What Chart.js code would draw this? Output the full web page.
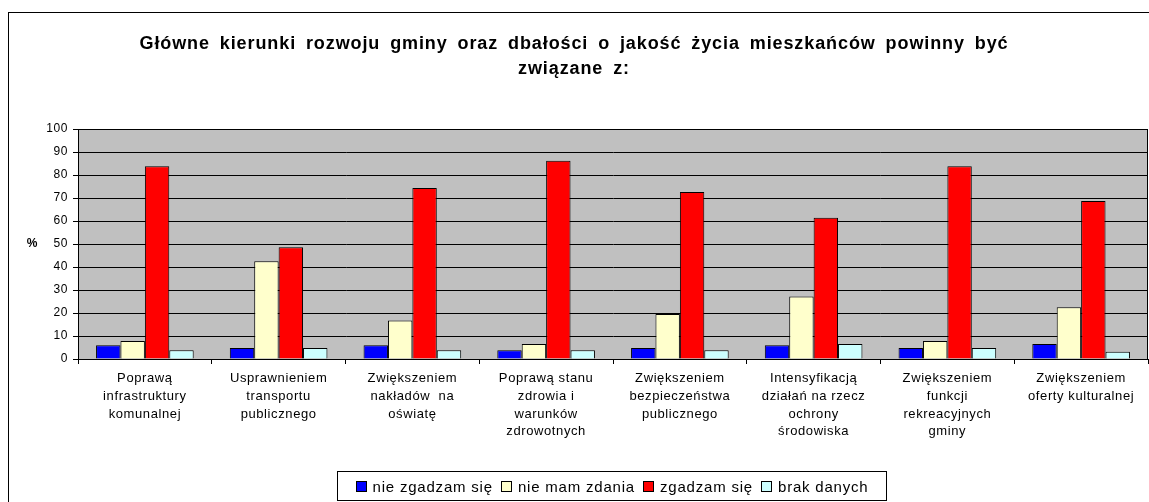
<!DOCTYPE html>
<html>
<head>
<meta charset="utf-8">
<script src="https://cdn.jsdelivr.net/npm/chart.js@4.4.1/dist/chart.umd.min.js"></script>
<style>
  html, body { margin: 0; padding: 0; background: #fff; overflow: hidden; }
  #wrap { position: relative; width: 1149px; height: 502px; }
</style>
</head>
<body>
<div id="wrap"><canvas id="chart" width="1149" height="502"></canvas></div>
<script>
// chart data
const titleLines = [
  'Główne kierunki rozwoju gminy oraz dbałości o jakość życia mieszkańców powinny być',
  'związane z:'
];
const categories = [
  ['Poprawą', 'infrastruktury', 'komunalnej'],
  ['Usprawnieniem', 'transportu', 'publicznego'],
  ['Zwiększeniem', 'nakładów  na', 'oświatę'],
  ['Poprawą stanu', 'zdrowia i', 'warunków', 'zdrowotnych'],
  ['Zwiększeniem', 'bezpieczeństwa', 'publicznego'],
  ['Intensyfikacją', 'działań na rzecz', 'ochrony', 'środowiska'],
  ['Zwiększeniem', 'funkcji', 'rekreacyjnych', 'gminy'],
  ['Zwiększeniem', 'oferty kulturalnej']
];
const seriesNames = ['nie zgadzam się', 'nie mam zdania', 'zgadzam się', 'brak danych'];
const nieZgadzam = [6, 4.8, 6, 3.8, 4.8, 6, 4.8, 6.5];
const nieMamZdania = [7.8, 42.5, 16.7, 6.5, 19.6, 27.2, 7.8, 22.5];
const zgadzam = [83.8, 48.6, 74.3, 86.2, 72.6, 61.4, 83.8, 68.7];
const brakDanych = [3.8, 4.8, 3.8, 3.8, 3.8, 6.5, 4.8, 3.2];
const yAxisLabel = '%';

const colors = ['#0000ff', '#ffffcc', '#ff0000', '#ccffff'];
const FONT = "'Liberation Sans', Arial, sans-serif";

const extras = {
  id: 'extras',
  beforeDraw(chart) {
    const { ctx, chartArea: a } = chart;
    ctx.save();
    ctx.fillStyle = '#fff';
    ctx.fillRect(0, 0, chart.width, chart.height);
    ctx.strokeStyle = '#000';
    ctx.lineWidth = 1;
    ctx.strokeRect(8.5, 12.5, 1300, 600);
    ctx.fillStyle = '#c0c0c0';
    ctx.fillRect(a.left, a.top, a.right - a.left, a.bottom - a.top);
    ctx.restore();
    ctx.letterSpacing = '0.6px';
  },
  afterDraw(chart) {
    const { ctx, chartArea: a } = chart;
    ctx.save();
    ctx.strokeStyle = '#000';
    ctx.lineWidth = 1;
    ctx.strokeRect(Math.round(a.left) + 0.5, Math.round(a.top) + 0.5,
      Math.round(a.right - a.left) - 1, Math.round(a.bottom - a.top));

    // title
    ctx.fillStyle = '#000';
    ctx.textAlign = 'center';
    ctx.textBaseline = 'middle';
    ctx.font = 'bold 18px ' + FONT;
    ctx.letterSpacing = '0.9px';
    ctx.wordSpacing = '4px';
    ctx.fillText(titleLines[0], 574, 44);
    ctx.fillText(titleLines[1], 574, 69);
    ctx.wordSpacing = '0px';

    // y axis label
    ctx.font = 'bold 12px ' + FONT;
    ctx.letterSpacing = '0px';
    ctx.fillText(yAxisLabel, 32, 244);

    // legend
    ctx.font = '15px ' + FONT;
    ctx.letterSpacing = '0.8px';
    const box = 10, gapText = 7, gapItem = 8;
    const widths = seriesNames.map(n => ctx.measureText(n).width);
    let total = widths.reduce((s, w) => s + w, 0) + seriesNames.length * (box + gapText) + (seriesNames.length - 1) * gapItem;
    const lx0 = 337.5, lx1 = 886.5, ly0 = 471.5, ly1 = 500.5;
    ctx.strokeRect(lx0, ly0, lx1 - lx0, ly1 - ly0);
    let x = (lx0 + lx1) / 2 - total / 2;
    const cy = 487;
    ctx.textAlign = 'left';
    seriesNames.forEach((n, i) => {
      ctx.fillStyle = colors[i];
      ctx.fillRect(Math.round(x) + 0.5, cy - 5.5, box, box);
      ctx.strokeRect(Math.round(x) + 0.5, cy - 5.5, box, box);
      ctx.fillStyle = '#000';
      ctx.fillText(n, x + box + gapText, cy + 1);
      x += box + gapText + widths[i] + gapItem;
    });
    ctx.restore();
    ctx.letterSpacing = '0px';
  }
};

const seriesValues = [nieZgadzam, nieMamZdania, zgadzam, brakDanych];

new Chart(document.getElementById('chart'), {
  type: 'bar',
  data: {
    labels: categories,
    datasets: seriesValues.map((vals, i) => ({
      label: seriesNames[i],
      data: vals,
      backgroundColor: colors[i],
      borderColor: '#000',
      borderWidth: 1,
      categoryPercentage: 0.73,
      barPercentage: 1
    }))
  },
  options: {
    responsive: false,
    animation: false,
    layout: { padding: { top: 129, right: 1, bottom: 43, left: 0 } },
    plugins: {
      legend: { display: false },
      title: { display: false },
      tooltip: { enabled: false }
    },
    scales: {
      x: {
        grid: { drawOnChartArea: false, color: '#000', tickLength: 5, offset: true },
        border: { color: '#000' },
        ticks: {
          color: '#000',
          font: { family: FONT, size: 13, lineHeight: 1.36 },
          padding: 6,
          maxRotation: 0,
          autoSkip: false
        },
        afterFit(scale) { scale.height = 100; }
      },
      y: {
        min: 0,
        max: 100,
        ticks: { stepSize: 10, color: '#000', font: { family: FONT, size: 12 }, padding: 5 },
        grid: { color: '#000', tickLength: 5 },
        border: { color: '#000' },
        afterFit(scale) { scale.width = 78; }
      }
    }
  },
  plugins: [extras]
});
</script>
</body>
</html>
